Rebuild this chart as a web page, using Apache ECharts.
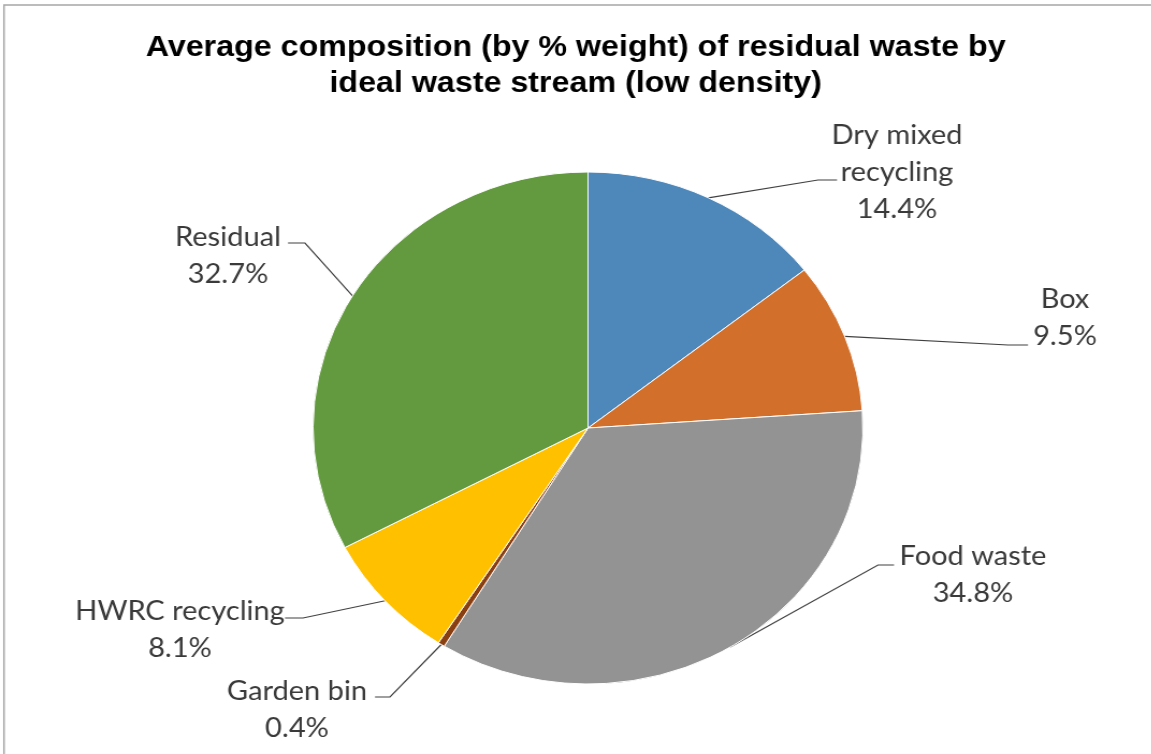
<!DOCTYPE html>
<html>
<head>
<meta charset="utf-8">
<script src="https://cdn.jsdelivr.net/npm/echarts@6/dist/echarts.min.js"></script>
<style>
  html, body { margin: 0; padding: 0; background: #fff; overflow: hidden; }
  #wrap { width: 1151px; height: 754px; position: relative; overflow: hidden; }
  #chart { position: absolute; left: 0; top: 0; height: 754px; transform-origin: 0 0; }
</style>
</head>
<body>
<div id="wrap"><div id="chart"></div></div>
<script>
// ---- data ----
const categories = ['Dry mixed\nrecycling', 'Box', 'Food waste', 'Garden bin', 'HWRC recycling', 'Residual'];
const values = [14.4, 9.5, 34.8, 0.4, 8.1, 32.7];
const colors = ['#4E88BB', '#D2702B', '#939393', '#8A3F10', '#FFC000', '#639A3F'];
const titleText = 'Average composition (by % weight) of residual waste by\nideal waste stream (low density)';

// ---- layout (reference pixel space) ----
const SX = 1.074;                 // horizontal stretch of the reference
const W = 1151 / SX;
// label block centre (cx, cy), leader horizontal y, elbow x, end x
const labelPos = [
  { cx: 897,  cy: 172, ly: 180, ex: 818, tx: 837 },
  { cx: 1065, cy: 318, ly: 345, ex: 1008, tx: 1028 },
  { cx: 973,  cy: 575, ly: 565, ex: 878, tx: 894 },
  { cx: 297,  cy: 710, ly: 697, ex: 390, tx: 375 },
  { cx: 180,  cy: 630, ly: 618, ex: 303, tx: 285 },
  { cx: 228,  cy: 256, ly: 243, ex: 305, tx: 288 }
];

const el = document.getElementById('chart');
el.style.width = W + 'px';
el.style.transform = 'scaleX(' + SX + ')';

const chart = echarts.init(el, null, { renderer: 'canvas' });

const option = {
  backgroundColor: '#fff',
  animation: false,
  title: {
    text: titleText,
    left: 'center',
    top: 25,
    textStyle: {
      fontFamily: 'Liberation Sans, Arial, sans-serif',
      fontWeight: 'bold',
      fontSize: 30,
      lineHeight: 36,
      color: '#000'
    }
  },
  graphic: [{
    type: 'rect',
    shape: { x: 4 / SX, y: 5, width: W + 100, height: 900 },
    style: { fill: 'none', stroke: '#a6a6a6', lineWidth: 1.5 },
    silent: true
  }],
  series: [{
    type: 'pie',
    center: [588 / SX, 428],
    radius: 256,
    startAngle: 90,
    clockwise: true,
    avoidLabelOverlap: false,
    data: categories.map((c, i) => ({ name: c, value: values[i], itemStyle: { color: colors[i] } })),
    itemStyle: { borderColor: '#ffffff', borderWidth: 1 },
    label: {
      show: true,
      position: 'outside',
      formatter: (p) => p.name + '\n' + p.value.toFixed(1) + '%',
      fontFamily: 'Lato, sans-serif',
      fontSize: 27,
      lineHeight: 37,
      color: '#3a3a3a',
      align: 'center'
    },
    labelLine: {
      show: true,
      length: 20,
      length2: 20,
      lineStyle: { color: '#404040', width: 1.2 }
    },
    labelLayout: function (params) {
      const lp = labelPos[params.dataIndex];
      const pts = params.labelLinePoints;
      const p0 = pts ? pts[0] : [0, 0];
      return {
        x: lp.cx / SX,
        y: lp.cy,
        align: 'center',
        verticalAlign: 'middle',
        labelLinePoints: [p0, [lp.ex / SX, lp.ly], [lp.tx / SX, lp.ly]]
      };
    },
    emphasis: { disabled: true }
  }]
};
chart.setOption(option);
</script>
</body>
</html>
